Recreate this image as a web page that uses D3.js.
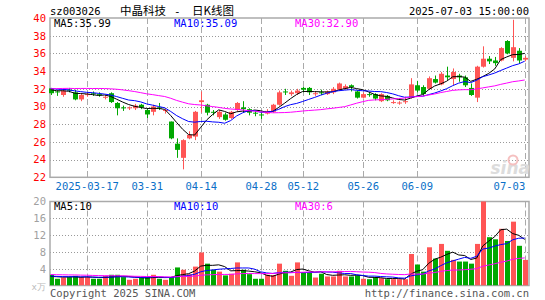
<!DOCTYPE html>
<html>
<head>
<meta charset="utf-8">
<script src="https://cdn.jsdelivr.net/npm/d3@7/dist/d3.min.js"></script>
<style>
  body { margin: 0; background: #fff; }
  svg { display: block; }
  text { font-family: "DejaVu Sans Mono", monospace; font-size: 10px; }
</style>
</head>
<body>
<svg id="chart" width="545" height="300"></svg>
<script>
// ---- data ----
var dates = ["2025-03-07","2025-03-10","2025-03-11","2025-03-12","2025-03-13","2025-03-14","2025-03-17","2025-03-18","2025-03-19","2025-03-20",
  "2025-03-21","2025-03-24","2025-03-25","2025-03-26","2025-03-27","2025-03-28","2025-03-31","2025-04-01","2025-04-02","2025-04-03",
  "2025-04-07","2025-04-08","2025-04-09","2025-04-10","2025-04-11","2025-04-14","2025-04-15","2025-04-16","2025-04-17","2025-04-18",
  "2025-04-21","2025-04-22","2025-04-23","2025-04-24","2025-04-25","2025-04-28","2025-04-29","2025-04-30","2025-05-06","2025-05-07",
  "2025-05-08","2025-05-09","2025-05-12","2025-05-13","2025-05-14","2025-05-15","2025-05-16","2025-05-19","2025-05-20","2025-05-21",
  "2025-05-22","2025-05-23","2025-05-26","2025-05-27","2025-05-28","2025-05-29","2025-05-30","2025-06-03","2025-06-04","2025-06-05",
  "2025-06-06","2025-06-09","2025-06-10","2025-06-11","2025-06-12","2025-06-13","2025-06-16","2025-06-17","2025-06-18","2025-06-19",
  "2025-06-20","2025-06-23","2025-06-24","2025-06-25","2025-06-26","2025-06-27","2025-06-30","2025-07-01","2025-07-02","2025-07-03"];

var open = [32.05,31.7,31.3,31.9,31.6,30.8,31.3,31.5,31.4,31.0, 31.5,30.4,29.9,29.8,29.8,30.2,29.6,29.4,29.9,29.5,
  28.3,25.8,24.2,26.4,26.6,30.5,30.2,29.4,28.8,29.1, 28.7,29.6,29.9,29.7,29.3,29.1,29.2,29.4,30.2,31.7,
  31.4,31.5,32.1,32.1,31.4,31.6,31.4,31.6,31.9,32.0, 32.4,31.7,31.0,31.4,31.4,30.6,31.2,30.4,30.35,30.5,
  31.0,32.4,32.2,32.0,33.1,32.5,33.5,33.1,33.5,33.3, 32.1,31.0,34.5,35.4,35.2,35.2,37.4,35.5,36.3,35.3];
var high = [32.1,31.8,31.9,32.1,31.9,31.5,31.6,31.7,31.6,31.3, 31.6,30.5,30.1,30.0,30.3,30.3,29.8,30.2,30.4,29.8,
  28.3,26.4,26.3,27.2,29.5,31.7,30.3,29.6,29.6,29.3, 29.5,30.5,30.6,29.8,29.5,29.4,29.7,30.3,31.8,32.0,
  31.8,32.0,32.2,32.2,31.7,31.9,31.8,32.2,32.7,32.5, 32.5,31.8,31.6,31.6,31.5,31.5,31.3,30.7,30.6,31.1,
  33.2,32.9,32.4,33.4,33.5,33.9,34.5,34.3,33.7,33.5, 32.6,34.6,36.8,35.7,35.6,36.7,37.5,39.8,36.6,35.7];
var low = [31.3,31.2,31.1,31.6,30.7,30.6,31.1,31.2,31.1,30.8, 30.4,29.0,29.5,29.6,29.6,29.7,28.7,29.0,29.6,29.2,
  26.3,24.2,22.9,26.3,26.2,29.3,29.0,29.0,28.6,28.4, 28.6,29.5,29.3,29.0,28.9,28.6,29.1,29.3,30.1,31.3,
  31.2,31.3,31.6,31.3,31.2,31.3,31.3,31.4,31.8,31.9, 31.7,30.9,30.9,31.1,30.7,30.5,30.6,30.3,30.2,30.3,
  30.9,31.6,31.2,31.9,32.6,32.4,33.0,32.4,32.8,32.2, 31.2,30.5,34.4,34.8,34.6,35.1,35.9,35.1,34.9,35.1];
var close = [31.5,31.6,31.8,31.8,30.8,31.3,31.4,31.4,31.3,31.1, 30.5,29.8,29.8,29.9,30.1,29.9,29.1,30.0,29.8,29.6,
  26.4,25.1,26.2,26.8,29.4,30.7,29.3,29.3,29.4,28.5, 29.4,30.4,29.7,29.3,29.2,29.0,29.5,30.2,31.6,31.6,
  31.6,31.8,31.9,31.6,31.5,31.5,31.7,32.0,32.6,32.3, 32.2,31.0,31.4,31.3,30.9,31.4,30.7,30.5,30.45,30.6,
  32.5,31.8,31.4,33.2,32.7,33.7,33.3,33.9,33.3,32.4, 31.3,34.5,35.4,35.1,34.9,36.6,36.0,36.7,35.2,35.5];
// volume, 万手
var volume = [2.55,1.6,1.9,2.0,2.3,2.0,2.0,1.6,1.6,2.3, 2.55,2.55,2.0,1.36,1.6,1.9,2.0,2.55,1.6,1.36,
  2.0,4.3,3.74,2.7,4.5,7.86,5.2,3.74,3.3,2.4, 2.8,5.5,3.74,2.7,1.6,1.6,2.55,2.5,5.2,3.5,
  2.3,5.5,3.1,3.1,1.9,2.8,2.15,2.15,3.5,2.15, 2.15,2.4,1.6,1.5,2.0,1.75,1.5,1.5,1.5,1.5,
  7.5,5.0,3.3,9.1,6.4,9.9,8.26,6.1,5.7,5.7, 5.2,9.9,20.5,11.5,11.0,13.5,10.6,15.2,9.45,6.1];
// sessions before the window, only used to start the moving averages
var preClose = [31.0,31.2,31.5,31.3,31.1,31.4,31.6,31.2,31.3,31.5,31.2,
  32.0,32.5,33.2,33.6,33.0,32.8,33.1,32.6,32.4, 32.5,32.1,32.3,31.9,32.2, 32.2,31.8,32.1,31.9];
var preVolume = [3.1,2.6,2.9,2.4,3.3,2.8,3.0,2.5,3.2,2.7, 2.9,2.5,2.8,3.4,2.6,3.0,2.7,2.4,2.9,2.5,
  2.3,2.6,2.1,2.4,2.2,2.0,2.3,1.9,2.1];

var priceTicks = [40,38,36,34,32,30,28,26,24,22];
var volTicks = [20,16,12,8,4];
var dateTicks = ["2025-03-17","2025-03-31","2025-04-14","2025-04-28","2025-05-12","2025-05-26","2025-06-09","2025-07-03"];
var dateLabels = ["2025-03-17","03-31","04-14","04-28","05-12","05-26","06-09","07-03"];
var maPeriods = [5,10,30];
var maColors = ["#000000","#0000ff","#ff00ff"];
var priceMaText = ["MA5:35.99","MA10:35.09","MA30:32.90"];
var volMaText = ["MA5:10","MA10:10","MA30:6"];

// ---- layout ----
var svg = d3.select("#chart");
var left = 50, right = 529;
var pTop = 18, pBot = 177.3, vTop = 201.5, vBot = 285.5;
var UP = "#ff5555", DOWN = "#00a800", GRID = "#999";

var x = d3.scalePoint().domain(dates).range([50.7, 524.7]);
var yP = d3.scaleLinear().domain([22, 40]).range([pBot, pTop]);
var yV = d3.scaleLinear().domain([0, 20]).range([vBot, vTop]);

function movingAvg(pre, arr, n) {
  var all = pre.concat(arr), off = pre.length;
  return arr.map(function(d, i) {
    var s = 0;
    for (var k = i + off - n + 1; k <= i + off; k++) s += all[k];
    return s / n;
  });
}

// grids
function grid(y0, y1, vals, yScale) {
  var g = svg.append("g");
  g.selectAll("line.h").data(vals).enter().append("line")
    .attr("x1", left).attr("x2", right)
    .attr("y1", function(d){ return Math.round(yScale(d)) + 0.5; })
    .attr("y2", function(d){ return Math.round(yScale(d)) + 0.5; })
    .attr("stroke", GRID).attr("stroke-dasharray", "1,2");
  g.selectAll("line.v").data(dateTicks).enter().append("line")
    .attr("x1", function(d){ return Math.round(x(d)) + 0.5; })
    .attr("x2", function(d){ return Math.round(x(d)) + 0.5; })
    .attr("y1", y0).attr("y2", y1)
    .attr("stroke", "#aaa").attr("stroke-dasharray", "6,3");
  g.append("rect").attr("x", left).attr("y", y0).attr("width", right - left).attr("height", y1 - y0)
    .attr("fill", "none").attr("stroke", "#aaa").attr("stroke-width", 1.5);
}
grid(pTop, pBot, [38,36,34,32,30,28,26,24], yP);
grid(vTop, vBot, [16,12,8,4], yV);

// watermark
svg.append("text").attr("x", 530).attr("y", 174).attr("text-anchor", "end")
  .style("font-family", "DejaVu Sans").style("font-size", "17px").style("font-style", "italic").style("font-weight", "bold")
  .attr("fill", "#dcdcdc").text("sina");
svg.append("circle").attr("cx", 513).attr("cy", 160).attr("r", 4.5)
  .attr("fill", "none").attr("stroke", "#f5c0c0").attr("stroke-width", 2);

// candles
var idx = d3.range(dates.length);
var cg = svg.append("g");
cg.selectAll("line").data(idx).enter().append("line")
  .attr("x1", function(i){ return Math.round(x(dates[i])) + 0.5; })
  .attr("x2", function(i){ return Math.round(x(dates[i])) + 0.5; })
  .attr("y1", function(i){ return yP(high[i]); })
  .attr("y2", function(i){ return yP(low[i]); })
  .attr("stroke", function(i){ return close[i] >= open[i] ? UP : DOWN; });
cg.selectAll("rect").data(idx).enter().append("rect")
  .attr("x", function(i){ return Math.round(x(dates[i])) - 2; })
  .attr("width", 5)
  .attr("y", function(i){ return yP(Math.max(open[i], close[i])); })
  .attr("height", function(i){ return Math.max(1, Math.abs(yP(open[i]) - yP(close[i]))); })
  .attr("fill", function(i){ return close[i] >= open[i] ? UP : DOWN; });

// volume bars
svg.append("clipPath").attr("id", "vclip").append("rect")
  .attr("x", left).attr("y", vTop).attr("width", right - left).attr("height", vBot - vTop);
svg.append("g").attr("clip-path", "url(#vclip)")
  .selectAll("rect").data(idx).enter().append("rect")
  .attr("x", function(i){ return Math.round(x(dates[i])) - 2; })
  .attr("width", 5)
  .attr("y", function(i){ return yV(volume[i]); })
  .attr("height", function(i){ return vBot - yV(volume[i]); })
  .attr("fill", function(i){ return close[i] >= open[i] ? UP : DOWN; });

// moving averages
maPeriods.forEach(function(n, k) {
  var mp = movingAvg(preClose, close, n);
  var mv = movingAvg(preVolume, volume, n);
  svg.append("path").datum(mp)
    .attr("d", d3.line().x(function(d, i){ return x(dates[i]); }).y(function(d){ return yP(d); }))
    .attr("fill", "none").attr("stroke", maColors[k]).attr("stroke-width", 1);
  svg.append("path").datum(mv)
    .attr("d", d3.line().x(function(d, i){ return x(dates[i]); }).y(function(d){ return yV(d); }))
    .attr("fill", "none").attr("stroke", maColors[k]).attr("stroke-width", 1);
});

// axes
var ax = svg.append("g").attr("transform", "translate(" + left + ",0)")
  .call(d3.axisLeft(yP).tickValues(priceTicks).tickSize(0).tickPadding(4));
ax.select(".domain").remove();
ax.selectAll("text").attr("fill", "#ff0000").style("font-size", "10.5px");

var av = svg.append("g").attr("transform", "translate(" + left + ",0)")
  .call(d3.axisLeft(yV).tickValues(volTicks).tickSize(0).tickPadding(4));
av.select(".domain").remove();
av.selectAll("text").attr("fill", "#a0a0a0").style("font-size", "10.5px");

var axx = svg.append("g").attr("transform", "translate(0," + pBot + ")")
  .call(d3.axisBottom(x).tickValues(dateTicks).tickSize(0).tickPadding(5)
    .tickFormat(function(d){ return dateLabels[dateTicks.indexOf(d)]; }));
axx.select(".domain").remove();
axx.selectAll("text").attr("fill", "#0a6fc8").style("font-size", "10.5px")
  .attr("text-anchor", function(d, i){ return i === dateTicks.length - 1 ? "end" : "middle"; });

// legends
var legendX = [54, 174, 295];
priceMaText.forEach(function(t, k) {
  svg.append("text").attr("x", legendX[k]).attr("y", 27).attr("fill", maColors[k]).style("font-size", "10.5px").text(t);
});
volMaText.forEach(function(t, k) {
  svg.append("text").attr("x", legendX[k]).attr("y", 210).attr("fill", maColors[k]).style("font-size", "10.5px").text(t);
});

// titles and footer
svg.append("text").attr("x", 50).attr("y", 15).attr("fill", "#000").style("font-size", "10.5px").text("sz003026");
svg.append("text").attr("x", 120).attr("y", 15).attr("fill", "#000")
  .style("font-family", "Noto Sans CJK SC").style("font-size", "11.5px").text("中晶科技");
svg.append("text").attr("x", 174).attr("y", 15).attr("fill", "#000").style("font-size", "11px").text("-");
svg.append("text").attr("x", 192).attr("y", 15).attr("fill", "#000")
  .style("font-family", "Noto Sans CJK SC").style("font-size", "11.5px").text("日K线图");
svg.append("text").attr("x", 529).attr("y", 15).attr("text-anchor", "end").attr("fill", "#000")
  .style("font-size", "10.5px").text("2025-07-03 15:00:00");
svg.append("text").attr("x", 46).attr("y", 290).attr("text-anchor", "end").attr("fill", "#bbb")
  .style("font-size", "9px").text("x万");
svg.append("text").attr("x", 50).attr("y", 297).attr("fill", "#555").style("font-size", "10.5px").text("Copyright 2025 SINA.COM");
svg.append("text").attr("x", 529).attr("y", 297).attr("text-anchor", "end").attr("fill", "#555")
  .style("font-size", "10.5px").text("http://finance.sina.com.cn");
</script>
</body>
</html>
